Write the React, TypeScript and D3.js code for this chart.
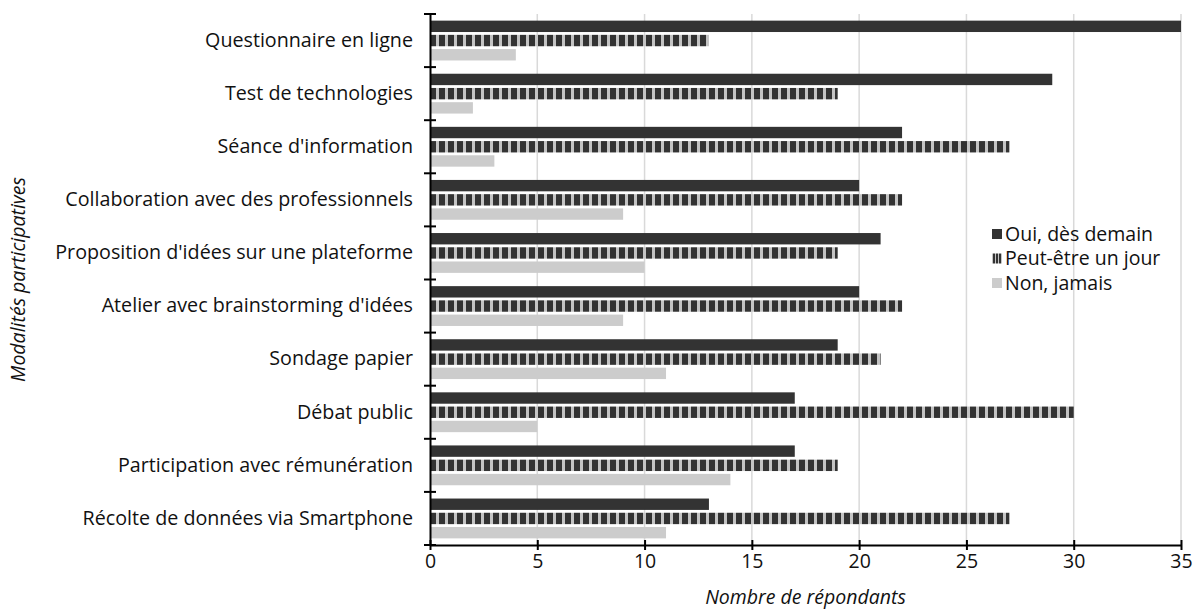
import React, { useEffect, useRef } from "react";
import * as d3 from "d3";

const categories = [
  "Questionnaire en ligne",
  "Test de technologies",
  "Séance d'information",
  "Collaboration avec des professionnels",
  "Proposition d'idées sur une plateforme",
  "Atelier avec brainstorming d'idées",
  "Sondage papier",
  "Débat public",
  "Participation avec rémunération",
  "Récolte de données via Smartphone",
];
const seriesNames = ["Oui, dès demain", "Peut-être un jour", "Non, jamais"];
const ouiValues = [35, 29, 22, 20, 21, 20, 19, 17, 17, 13];
const peutEtreValues = [13, 19, 27, 22, 19, 22, 21, 30, 19, 27];
const nonValues = [4, 2, 3, 9, 10, 9, 11, 5, 14, 11];
const xTicks = [0, 5, 10, 15, 20, 25, 30, 35];

const W = 1198;
const H = 609;
const FONT = "'Open Sans', sans-serif";

export default function App() {
  const ref = useRef<SVGSVGElement>(null);
  useEffect(() => {
    const svg = d3.select(ref.current);
    svg.selectAll("*").remove();
    const left = 430, right = 1181, top = 14, bottom = 545;
    const x = d3.scaleLinear().domain([0, 35]).range([left, right]);
    const y = d3.scaleBand().domain(categories).range([top, bottom]).paddingInner(0.25).paddingOuter(0.125);
    const sub = d3.scaleBand().domain(seriesNames).range([0, y.bandwidth()]).paddingInner(0.2);
    const defs = svg.append("defs");
    const pat = defs.append("pattern").attr("id", "stripes").attr("patternUnits", "userSpaceOnUse")
      .attr("width", 9).attr("height", 10).attr("x", left);
    pat.append("rect").attr("width", 9).attr("height", 10).attr("fill", "#c4c4c4");
    pat.append("rect").attr("width", 6).attr("height", 10).attr("fill", "#333333");
    const pat2 = defs.append("pattern").attr("id", "stripesL").attr("patternUnits", "userSpaceOnUse")
      .attr("width", 3).attr("height", 10).attr("x", 0);
    pat2.append("rect").attr("width", 3).attr("height", 10).attr("fill", "#c4c4c4");
    pat2.append("rect").attr("width", 2).attr("height", 10).attr("fill", "#333333");

    // grid
    svg.append("g").selectAll("line").data(xTicks.filter((t) => t > 0)).join("line")
      .attr("x1", (d) => x(d)).attr("x2", (d) => x(d)).attr("y1", top).attr("y2", bottom)
      .attr("stroke", "#d9d9d9").attr("stroke-width", 1.5);

    const series = [
      { name: seriesNames[0], values: ouiValues, fill: "#333333" },
      { name: seriesNames[1], values: peutEtreValues, fill: "url(#stripes)" },
      { name: seriesNames[2], values: nonValues, fill: "#cccccc" },
    ];
    series.forEach((s) => {
      svg.append("g").selectAll("rect").data(categories).join("rect")
        .attr("x", x(0)).attr("y", (c) => (y(c) as number) + (sub(s.name) as number))
        .attr("width", (c, i) => x(s.values[i]) - x(0)).attr("height", sub.bandwidth())
        .attr("fill", s.fill);
    });

    // axes
    const xAxis = svg.append("g").attr("transform", `translate(0,${bottom})`)
      .call(d3.axisBottom(x).tickValues(xTicks).tickSize(0).tickPadding(9));
    xAxis.select(".domain").attr("stroke", "#000").attr("stroke-width", 2);
    xAxis.selectAll(".tick line").remove();
    xAxis.selectAll(".tick").append("line").attr("y1", -5).attr("y2", 5).attr("stroke", "#000").attr("stroke-width", 2);
    xAxis.selectAll("text").attr("font-family", FONT).attr("font-size", 19.5).attr("fill", "#111");

    const yAxis = svg.append("g").attr("transform", `translate(${left},0)`)
      .call(d3.axisLeft(y).tickSize(0).tickPadding(17));
    yAxis.select(".domain").attr("stroke", "#000").attr("stroke-width", 2);
    yAxis.selectAll("text").attr("font-family", FONT).attr("font-size", 19.7).attr("fill", "#111");
    const bounds = d3.range(categories.length + 1).map((i) => top + i * y.step());
    svg.append("g").selectAll("line").data(bounds).join("line")
      .attr("x1", left - 6).attr("x2", left + 6).attr("y1", (d) => d).attr("y2", (d) => d)
      .attr("stroke", "#000").attr("stroke-width", 2);

    // axis titles
    svg.append("text").attr("x", (left + right) / 2).attr("y", 604).attr("text-anchor", "middle")
      .attr("font-family", FONT).attr("font-style", "italic").attr("font-size", 19.5).attr("fill", "#111")
      .text("Nombre de répondants");
    svg.append("text").attr("transform", `translate(25,${(top + bottom) / 2}) rotate(-90)`)
      .attr("text-anchor", "middle").attr("font-family", FONT).attr("font-style", "italic")
      .attr("font-size", 19.5).attr("fill", "#111").text("Modalités participatives");

    // legend
    const legendY = d3.scalePoint().domain(seriesNames).range([234, 283]);
    const lg = svg.append("g");
    series.forEach((s, i) => {
      const yy = legendY(s.name) as number;
      lg.append("rect").attr("x", 992).attr("y", yy - 5).attr("width", 10).attr("height", 10)
        .attr("fill", i === 1 ? "url(#stripesL)" : s.fill);
      lg.append("text").attr("x", 1005).attr("y", yy).attr("dy", "0.35em")
        .attr("font-family", FONT).attr("font-size", 19.5).attr("fill", "#111").text(s.name);
    });
  }, []);
  return <svg ref={ref} width={W} height={H} style={{ display: "block", position: "absolute", left: 0, top: 0, background: "#fff" }} />;
}
